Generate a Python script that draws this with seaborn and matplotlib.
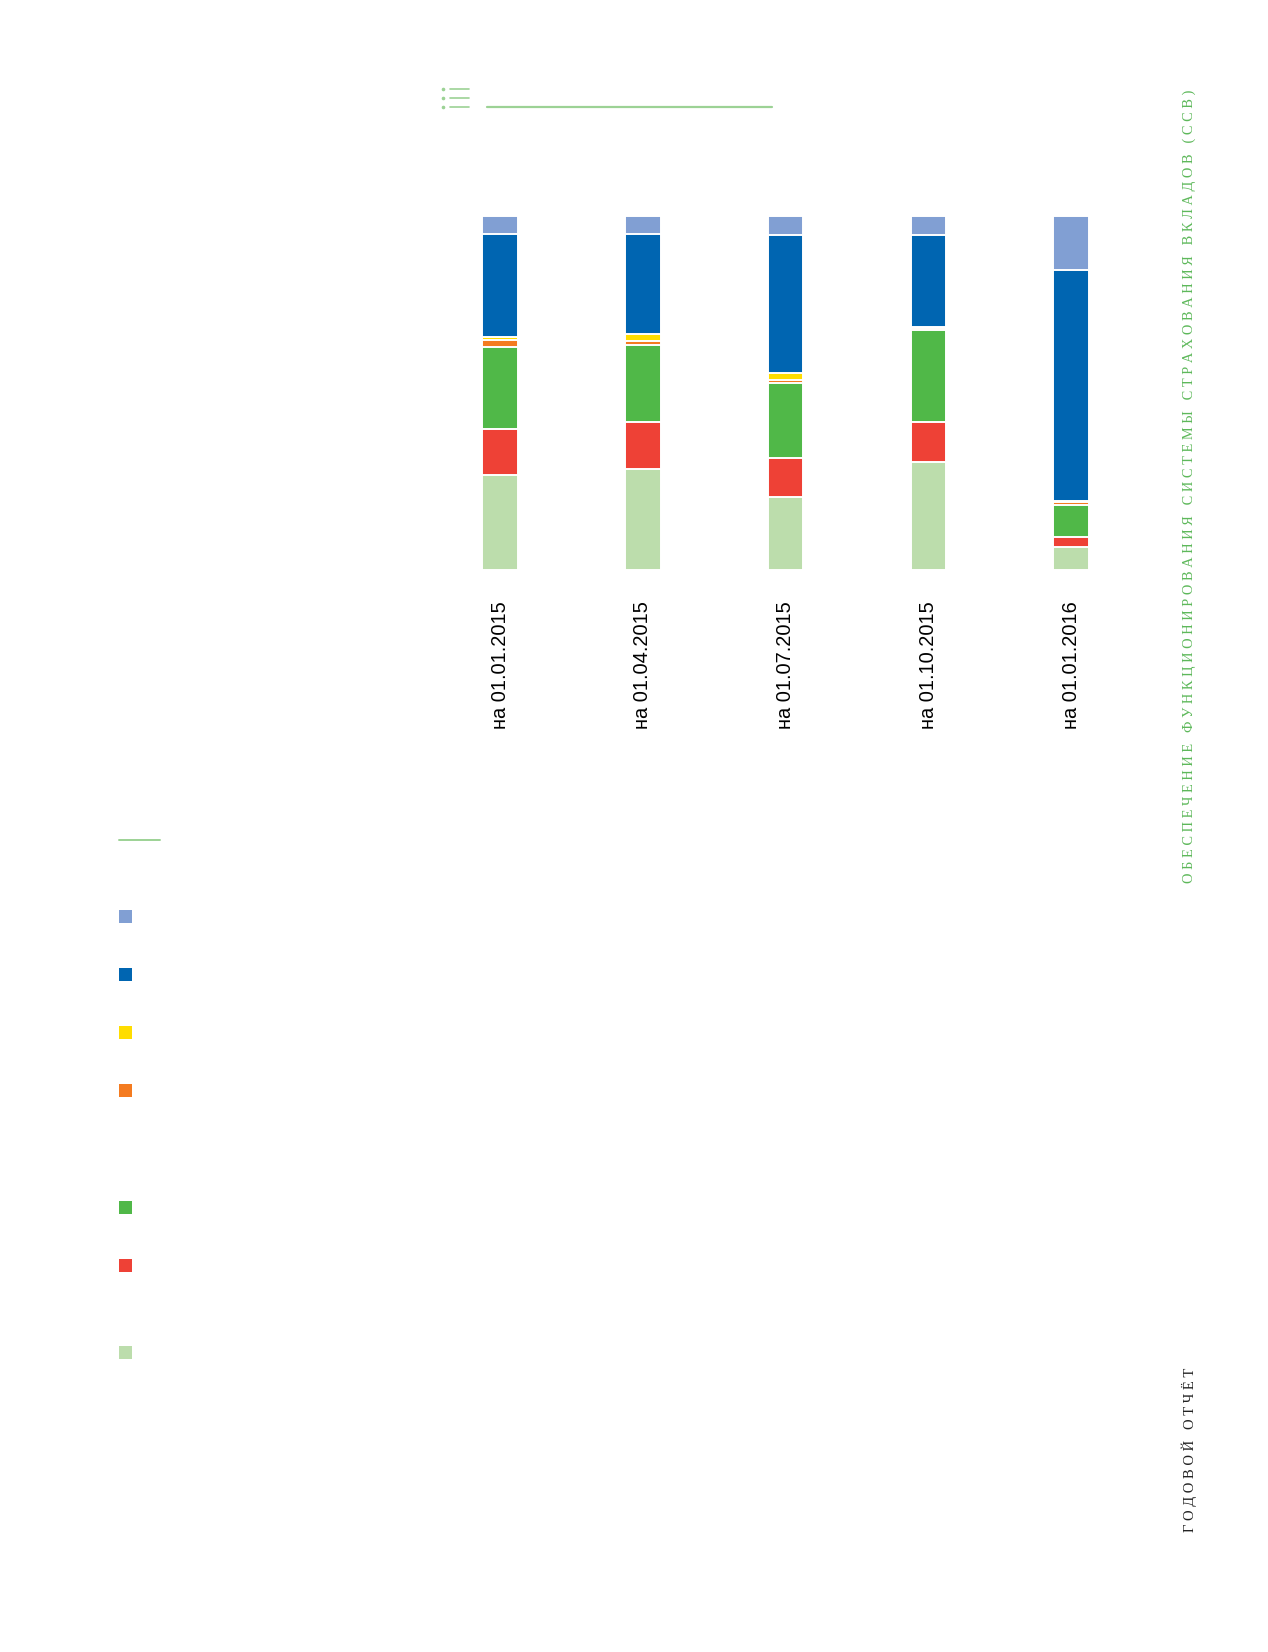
import numpy as np
import pandas as pd
import matplotlib
matplotlib.use("Agg")
import matplotlib.pyplot as plt
from matplotlib.lines import Line2D
from matplotlib.patches import Rectangle
import seaborn as sns

# ---------------- data (shares, %, bottom -> top) ----------------
dates = ["на 01.01.2015", "на 01.04.2015", "на 01.07.2015", "на 01.10.2015", "на 01.01.2016"]
light_green = [26.7, 28.6, 20.6, 30.6, 6.4]
red = [13.1, 13.1, 11.0, 11.1, 2.9]
green = [23.1, 21.9, 21.1, 26.0, 9.1]
orange = [2.1, 1.1, 1.0, 0.8, 0.9]
yellow = [0.9, 1.9, 1.9, 0.2, 0.1]
dark_blue = [28.9, 28.2, 39.1, 26.0, 65.4]
light_blue = [5.2, 5.2, 5.3, 5.3, 15.2]

series_order = ["light_green", "red", "green", "orange", "yellow", "dark_blue", "light_blue"]
series_values = [light_green, red, green, orange, yellow, dark_blue, light_blue]
colors = {
    "light_green": "#BCDDAC",
    "red": "#EE4136",
    "green": "#50B848",
    "orange": "#F47B20",
    "yellow": "#FFDD00",
    "dark_blue": "#0065B1",
    "light_blue": "#819FD3",
}
legend_order = ["light_blue", "dark_blue", "yellow", "orange", "green", "red", "light_green"]

W, H = 1268, 1652
sns.set_theme(style="white")
plt.rcParams["font.family"] = ["Liberation Sans", "DejaVu Sans"]

fig = plt.figure(figsize=(W / 100, H / 100), dpi=100)

def fx(px):
    return px / W

def fy(py):
    return 1 - py / H

# axes: bars centred at ~500..1071 px, from y 216 to 570 px
left_px, right_px = 428.6, 1142.6
top_px, bot_px = 216, 570
ax = fig.add_axes([fx(left_px), fy(bot_px), (right_px - left_px) / W, (bot_px - top_px) / H])

df = pd.DataFrame({"date": dates})
cum = np.zeros(len(dates))
cums = []
for vals in series_values:
    cum = cum + np.array(vals)
    cums.append(cum.copy())
total = cums[-1]

# draw cumulative bars from tallest to shortest (stacked look)
for name, c in reversed(list(zip(series_order, cums))):
    d = df.copy()
    d["value"] = c / total * 100
    sns.barplot(data=d, x="date", y="value", color=colors[name], saturation=1,
                width=0.248, edgecolor="white", linewidth=1.4, ax=ax, zorder=2)

ax.set_xlim(-0.5, 4.5)
ax.set_ylim(0, 100)
ax.set_xlabel("")
ax.set_ylabel("")
ax.set_yticks([])
for s in ax.spines.values():
    s.set_visible(False)
ax.tick_params(axis="x", length=0, pad=22.5)
ax.set_xticks(range(len(dates)))
ax.set_xticklabels(dates, rotation=90, fontsize=14.4, color="black",
                   family=["Liberation Sans", "DejaVu Sans"], va="top", ha="center")

# ---------------- decorations ----------------
line_col = "#9CD295"
# icon at top
for yy in (89, 98, 107):
    fig.add_artist(Line2D([fx(450), fx(469)], [fy(yy), fy(yy)], color=line_col, lw=1.2))
    fig.add_artist(Line2D([fx(443)], [fy(yy)], marker="o", markersize=1.6, color=line_col, lw=0))
fig.add_artist(Line2D([fx(487), fx(772)], [fy(107), fy(107)], color=line_col, lw=1.6))
# small line above legend
fig.add_artist(Line2D([fx(119), fx(160)], [fy(840), fy(840)], color=line_col, lw=1.4))

# legend squares (no text in reference)
leg_y = [916, 974, 1032, 1090, 1207, 1265, 1352]
for name, yc in zip(legend_order, leg_y):
    fig.add_artist(Rectangle((fx(119), fy(yc + 6.5)), 13 / W, 13 / H,
                             facecolor=colors[name], edgecolor="none",
                             transform=fig.transFigure))

# ---------------- vertical running headers ----------------
def spaced(s):
    words = s.split(" ")
    return "   ".join(" ".join(list(w)) for w in words)

renderer = fig.canvas.get_renderer()

def vtext(s, x_px, y_top, y_bot, color):
    t = fig.text(fx(x_px), fy((y_top + y_bot) / 2), spaced(s), rotation=90,
                 ha="center", va="center", color=color, fontsize=10,
                 family=["Liberation Serif", "DejaVu Serif"])
    bb = t.get_window_extent(renderer=renderer)
    t.set_fontsize(10 * (y_bot - y_top) / bb.height)
    return t

vtext("ОБЕСПЕЧЕНИЕ ФУНКЦИОНИРОВАНИЯ СИСТЕМЫ СТРАХОВАНИЯ ВКЛАДОВ (ССВ)", 1189, 90, 883, "#5DB85A")
vtext("ГОДОВОЙ ОТЧЁТ", 1189, 1367, 1532, "#222222")

fig.savefig("out.png", dpi=100, facecolor="white")
